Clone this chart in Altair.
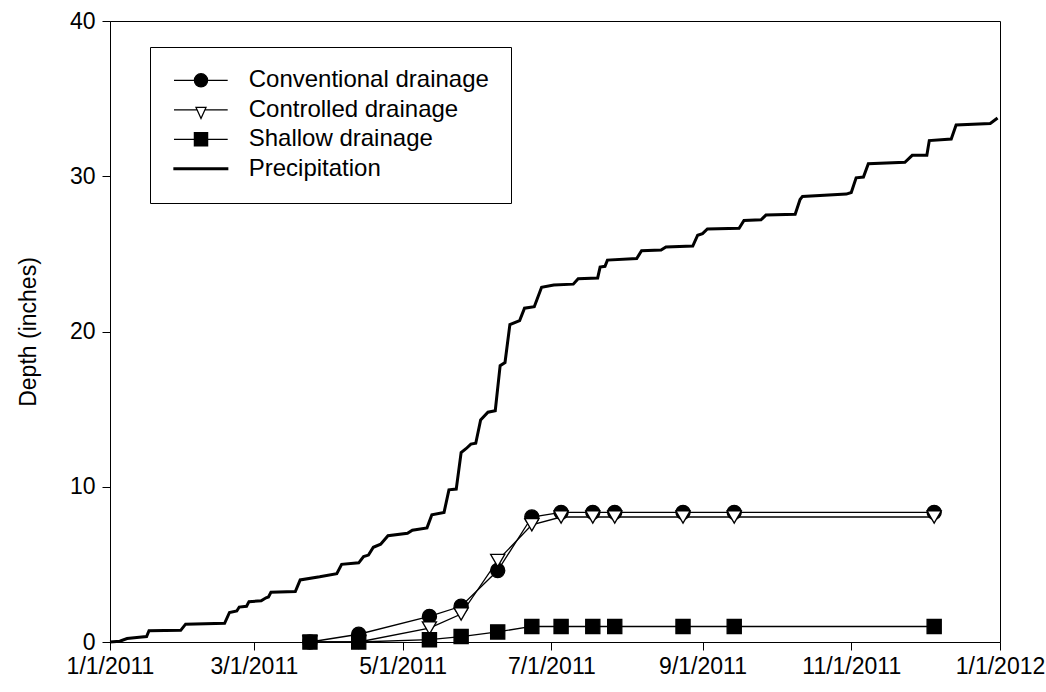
import altair as alt
import pandas as pd

# Drain-flow sampling dates and cumulative depths (inches)
drain_dates = ["2011/03/24", "2011/04/13", "2011/05/12", "2011/05/25", "2011/06/09",
               "2011/06/23", "2011/07/05", "2011/07/18", "2011/07/27", "2011/08/24",
               "2011/09/14", "2011/12/05"]
conventional = [0.0, 0.5, 1.65, 2.3, 4.6, 8.05, 8.35, 8.35, 8.35, 8.35, 8.35, 8.35]
controlled = [0.0, 0.0, 0.9, 1.8, 5.25, 7.55, 8.05, 8.05, 8.05, 8.05, 8.05, 8.05]
shallow = [0.0, 0.0, 0.15, 0.35, 0.65, 1.0, 1.0, 1.0, 1.0, 1.0, 1.0, 1.0]

# Cumulative precipitation (inches)
precip_dates = [
    "2011/01/01", "2011/01/05", "2011/01/08", "2011/01/13", "2011/01/16", "2011/01/17",
    "2011/01/30", "2011/02/01", "2011/02/17", "2011/02/19", "2011/02/22", "2011/02/23",
    "2011/02/26", "2011/02/27", "2011/03/04", "2011/03/06", "2011/03/07", "2011/03/08",
    "2011/03/18", "2011/03/20", "2011/03/28", "2011/04/04", "2011/04/06", "2011/04/13",
    "2011/04/15", "2011/04/17", "2011/04/19", "2011/04/22", "2011/04/25", "2011/05/03",
    "2011/05/05", "2011/05/11", "2011/05/13", "2011/05/18", "2011/05/20", "2011/05/23",
    "2011/05/25", "2011/05/27", "2011/05/29", "2011/05/31", "2011/06/02", "2011/06/05",
    "2011/06/08", "2011/06/10", "2011/06/12", "2011/06/14", "2011/06/18", "2011/06/20",
    "2011/06/24", "2011/06/27", "2011/07/02", "2011/07/10", "2011/07/12", "2011/07/20",
    "2011/07/21", "2011/07/23", "2011/07/24", "2011/08/05", "2011/08/07", "2011/08/15",
    "2011/08/17", "2011/08/28", "2011/08/30", "2011/09/01", "2011/09/03", "2011/09/16",
    "2011/09/18", "2011/09/25", "2011/09/27", "2011/10/09", "2011/10/11", "2011/10/12",
    "2011/10/30", "2011/11/01", "2011/11/03", "2011/11/06", "2011/11/08", "2011/11/23",
    "2011/11/26", "2011/12/02", "2011/12/03", "2011/12/12", "2011/12/14", "2011/12/28",
    "2011/12/31",
]
precip_depth = [
    0.0, 0.05, 0.22, 0.3, 0.35, 0.73,
    0.75, 1.15, 1.2, 1.9, 2.0, 2.25,
    2.3, 2.6, 2.65, 2.85, 2.9, 3.2,
    3.25, 4.0, 4.2, 4.4, 5.0, 5.1,
    5.5, 5.6, 6.1, 6.3, 6.85, 7.0,
    7.2, 7.35, 8.2, 8.35, 9.8, 9.85,
    12.2, 12.45, 12.75, 12.8, 14.3, 14.8,
    14.9, 17.8, 18.0, 20.45, 20.7, 21.5,
    21.6, 22.85, 23.0, 23.05, 23.4, 23.45,
    24.15, 24.2, 24.6, 24.7, 25.2, 25.25,
    25.45, 25.5, 26.2, 26.3, 26.6, 26.65,
    27.15, 27.2, 27.5, 27.55, 28.5, 28.7,
    28.85, 28.95, 29.9, 29.95, 30.8, 30.9,
    31.35, 31.35, 32.3, 32.4, 33.3, 33.4,
    33.75,
]

names = ["Conventional drainage", "Controlled drainage", "Shallow drainage", "Precipitation"]

drain_df = pd.concat([
    pd.DataFrame({"date": drain_dates, "depth": vals, "series": name})
    for name, vals in zip(names[:3], [conventional, controlled, shallow])
], ignore_index=True)
precip_df = pd.DataFrame({"date": precip_dates, "depth": precip_depth, "series": names[3]})
legend_df = pd.DataFrame({"series": pd.Series([], dtype=str)})

FONT = "Liberation Sans"

x_enc = alt.X(
    "date:T",
    scale=alt.Scale(domain=[alt.DateTime(year=2011, month=1, date=1),
                            alt.DateTime(year=2012, month=1, date=1)]),
    axis=alt.Axis(
        title=None,
        values=[alt.DateTime(year=2011, month=m, date=1) for m in (1, 3, 5, 7, 9, 11)]
        + [alt.DateTime(year=2012, month=1, date=1)],
        format="%-m/%-d/%Y",
        labelFlush=False,
        labelOverlap=False,
        labelPadding=5,
    ),
)
y_enc = alt.Y(
    "depth:Q",
    scale=alt.Scale(domain=[0, 40], nice=False),
    axis=alt.Axis(
        title="Depth (inches)",
        values=[0, 10, 20, 30, 40],
        labelPadding=7,
        titleX=-82,
        titleY=310.5,
        titleBaseline="middle",
        titleAlign="center",
        titleAngle=270,
    ),
)

# Legend glyphs: short line with the series marker in its middle (unit = 6 px)
P_CIRC = ("M-1.55,0H7.4M1.85,0C1.85,-0.6075,2.3425,-1.1,2.95,-1.1"
          "C3.5575,-1.1,4.05,-0.6075,4.05,0C4.05,0.6075,3.5575,1.1,2.95,1.1"
          "C2.3425,1.1,1.85,0.6075,1.85,0Z")
P_TRI = "M-1.55,0H2.3M3.6,0H7.4M2.12,-0.4L3.78,-0.4L2.95,1.45Z"
P_SQ = "M-1.55,0H7.4M1.85,-1.1H4.05V1.1H1.85Z"
P_BAR = "M-1.55,-0.14H7.4V0.14H-1.55Z"

legend = alt.Legend(
    title=None,
    orient="none",
    legendX=40,
    legendY=26,
    symbolSize=144,
    symbolOpacity=1,
    symbolStrokeWidth=1.3,
    labelOffset=53.4,
    padding=21.3,
    rowPadding=5.5,
    strokeColor="black",
    fillColor="white",
    labelFont=FONT,
    labelFontSize=24,
    labelColor="black",
    labelLimit=400,
)

# Legend-only layer (no rows): carries the legend glyph scales
legend_layer = alt.Chart(legend_df).mark_point(
    filled=True, size=144, opacity=1, strokeWidth=1.3
).encode(
    shape=alt.Shape("series:N",
                    scale=alt.Scale(domain=names, range=[P_CIRC, P_TRI, P_SQ, P_BAR]),
                    legend=legend),
    fill=alt.Fill("series:N",
                  scale=alt.Scale(domain=names, range=["black", "white", "black", "black"]),
                  legend=legend),
    stroke=alt.Stroke("series:N",
                      scale=alt.Scale(domain=names, range=["black", "black", "black", "black"]),
                      legend=legend),
)

drain_lines = alt.Chart(drain_df).mark_line(color="black", strokeWidth=1.3).encode(
    x=x_enc, y=y_enc, detail="series:N"
)

drain_points = alt.Chart(drain_df).mark_point(
    filled=True, size=200, stroke="black", strokeWidth=1.3, opacity=1
).encode(
    x=x_enc,
    y=y_enc,
    shape=alt.Shape(
        "series:N",
        scale=alt.Scale(domain=names[:3], range=["circle", "triangle-down", "square"]),
        legend=None,
    ),
    fill=alt.Fill(
        "series:N",
        scale=alt.Scale(domain=names[:3], range=["black", "white", "black"]),
        legend=None,
    ),
)

precip_line = alt.Chart(precip_df).mark_line(color="black", strokeWidth=3).encode(
    x=x_enc, y=y_enc
)

chart = (
    alt.layer(precip_line, drain_lines, drain_points, legend_layer)
    .resolve_scale(shape="independent", fill="independent", stroke="independent")
    .properties(
        width=890,
        height=621,
        autosize=alt.AutoSizeParams(type="none"),
        padding={"left": 110, "top": 21, "right": 46, "bottom": 50},
        background="white",
    )
    .configure_view(stroke="black", strokeWidth=1)
    .configure_axis(
        grid=False,
        domainColor="black",
        tickColor="black",
        tickSize=8,
        labelColor="black",
        labelFont=FONT,
        labelFontSize=23,
        titleFont=FONT,
        titleFontSize=23,
        titleFontWeight="normal",
        titleColor="black",
    )
)

chart.save("out.html", embed_options={"renderer": "svg", "actions": False})
